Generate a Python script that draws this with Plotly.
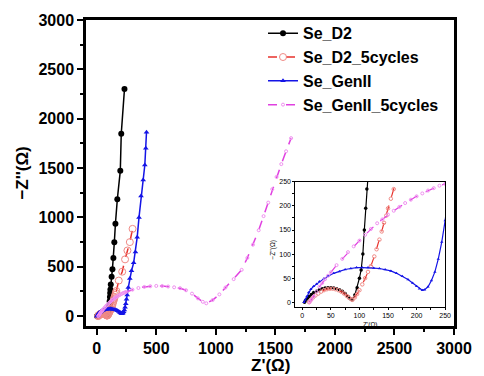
import plotly.graph_objects as go

# ---------------- data ----------------
d2_x = [4, 6, 9, 12, 16, 20, 25, 30, 35, 40, 45, 50, 55, 60, 65, 70, 75, 80, 84, 87,
        92, 96, 100, 103, 106, 108.6, 111, 113, 115, 118, 125, 132, 140, 148, 157, 173, 198, 206, 233]
d2_y = [0, 4, 8, 12, 16, 20, 23, 26, 28, 29.5, 30, 30, 29.5, 28, 26, 23, 18, 12, 7, 5,
        15, 30, 50, 67, 100, 150, 195, 235, 270, 320, 400, 476, 589, 748, 936, 1184, 1472, 1847, 2300]

d2c_x = [12, 15, 19, 23, 28, 33, 38, 43, 48, 53, 58, 63, 68, 73, 78, 82, 86, 88,
         92, 96, 100, 105, 110, 115, 120, 126, 130, 135, 139, 143, 147, 150, 155, 160, 165,
         185, 214, 238, 258, 278, 301]
d2c_y = [0, 5, 10, 14, 18, 22, 25, 27, 28, 28, 27, 25, 22, 18, 13, 9, 6, 5,
         10, 17, 25, 37, 50, 63, 75, 95, 110, 130, 147, 165, 180, 195, 215, 235, 255,
         360, 450, 575, 665, 750, 884]

g2_x = [3, 5, 8, 11, 15, 20, 25, 30, 38, 45, 55, 65, 75, 85, 95, 105, 115, 125, 135, 145,
        155, 165, 175, 185, 193, 200, 205, 210, 214, 220, 226, 232, 238, 244, 250, 256,
        265, 278, 292, 310, 325, 340, 355, 372, 390, 404, 412, 418]
g2_y = [0, 5, 12, 20, 27, 33, 38, 43, 49, 54, 60, 64, 68, 70, 72, 72, 72, 71, 70, 68,
        65, 60, 54, 47, 40, 33, 28, 25, 26, 32, 45, 63, 90, 125, 170, 215,
        290, 380, 460, 540, 650, 800, 1000, 1217, 1380, 1531, 1700, 1864]

g2c_x = [13, 16, 20, 25, 30, 35, 40, 45, 50, 60, 70, 80, 90, 100, 110, 120, 131, 140, 150,
         160, 170, 180, 190, 200, 210, 220, 230, 240, 250, 300, 350, 400, 450, 500, 550, 600,
         650, 700, 750, 800, 850, 891, 920, 973, 1030, 1081, 1150, 1217, 1265, 1312, 1360,
         1401, 1440, 1474, 1510, 1550, 1590, 1632]
g2c_y = [0, 5, 12, 22, 32, 40, 48, 55, 62, 77, 90, 104, 116, 128, 140, 152, 164, 172, 182,
         190, 198, 206, 213, 220, 226, 232, 237, 242, 246, 268, 285, 296, 303, 306, 305, 300,
         292, 283, 262, 228, 180, 145, 130, 163, 220, 290, 375, 469, 590, 724, 870,
         1013, 1150, 1286, 1410, 1540, 1670, 1803]

names = ["Se_D2", "Se_D2_5cycles", "Se_GenII", "Se_GenII_5cycles"]

main_x_ticks = [0, 500, 1000, 1500, 2000, 2500, 3000]
main_y_ticks = [0, 500, 1000, 1500, 2000, 2500, 3000]
inset_ticks = [0, 50, 100, 150, 200, 250]

# ---------------- styles ----------------
styles = [
    dict(line=dict(color="#000000", width=1.5),
         marker=dict(symbol="circle", color="#000000", size=6), msz=3.5),
    dict(line=dict(color="#e8322c", width=1.5, dash="dash"),
         marker=dict(symbol="circle-open", color="#f08a86", size=7, line=dict(width=1)), msz=3.5),
    dict(line=dict(color="#1414e6", width=1.5),
         marker=dict(symbol="triangle-up", color="#1414e6", size=5), msz=3),
    dict(line=dict(color="#e040e0", width=1.5, dash="dash"),
         marker=dict(symbol="circle-open", color="#f090f0", size=3, line=dict(width=1)), msz=3),
]

data = [(d2_x, d2_y), (d2c_x, d2c_y), (g2_x, g2_y), (g2c_x, g2c_y)]

fig = go.Figure()
for (xs, ys), nm, st in zip(data, names, styles):
    fig.add_trace(go.Scatter(x=xs, y=ys, name=nm, mode="lines+markers",
                             line=st["line"], marker=st["marker"],
                             xaxis="x", yaxis="y"))
for (xs, ys), nm, st in zip(data, names, styles):
    mk = dict(st["marker"])
    mk["size"] = st["msz"]
    ln = dict(st["line"])
    ln["width"] = 1.2
    fig.add_trace(go.Scatter(x=xs, y=ys, name=nm, mode="lines+markers",
                             line=ln, marker=mk, showlegend=False,
                             xaxis="x2", yaxis="y2"))

FONT = "Liberation Sans, Arial, sans-serif"

fig.update_layout(
    width=484, height=376,
    margin=dict(l=86, r=22, t=20, b=50),
    paper_bgcolor="white", plot_bgcolor="white",
    font=dict(family=FONT, color="black"),
    showlegend=True,
    legend=dict(x=0.481, y=1.012, xanchor="left", yanchor="top",
                bgcolor="rgba(0,0,0,0)", borderwidth=0,
                font=dict(family=FONT, size=16, weight="bold", color="black"),
                tracegroupgap=0, itemwidth=30),
    xaxis=dict(domain=[0, 1], range=[-90, 3000], tickvals=main_x_ticks,
               ticks="outside", ticklen=6, tickwidth=2, tickcolor="black",
               showline=True, linewidth=2.5, linecolor="black", mirror=True,
               showgrid=False, zeroline=False,
               minor=dict(dtick=250, tick0=0, ticks="outside", ticklen=3, tickwidth=2, tickcolor="black"),
               tickfont=dict(family=FONT, size=16, weight="bold")),
    yaxis=dict(domain=[0, 1], range=[-100, 3000], tickvals=main_y_ticks,
               ticks="outside", ticklen=6, tickwidth=2, tickcolor="black",
               showline=True, linewidth=2.5, linecolor="black", mirror=True,
               showgrid=False, zeroline=False,
               minor=dict(dtick=250, tick0=0, ticks="outside", ticklen=3, tickwidth=2, tickcolor="black"),
               tickfont=dict(family=FONT, size=16, weight="bold")),
    xaxis2=dict(domain=[0.569, 0.976], anchor="y2", range=[-12, 250], tickvals=inset_ticks,
                ticks="outside", ticklen=2, tickwidth=1, tickcolor="black",
                showline=True, linewidth=1, linecolor="black", mirror=True,
                showgrid=False, zeroline=False,
                minor=dict(dtick=25, tick0=0, ticks="outside", ticklen=2, tickwidth=1, tickcolor="black"),
                tickfont=dict(family=FONT, size=7)),
    yaxis2=dict(domain=[0.062, 0.471], anchor="x2", range=[-10, 250], tickvals=inset_ticks,
                ticks="outside", ticklen=2, tickwidth=1, tickcolor="black",
                showline=True, linewidth=1, linecolor="black", mirror=True,
                showgrid=False, zeroline=False,
                minor=dict(dtick=25, tick0=0, ticks="outside", ticklen=2, tickwidth=1, tickcolor="black"),
                tickfont=dict(family=FONT, size=7)),
    annotations=[
        dict(text="Z'(Ω)", xref="paper", yref="paper", x=0.5, y=-0.128,
             xanchor="center", yanchor="middle", showarrow=False,
             font=dict(family=FONT, size=17, weight="bold")),
        dict(text="−Z''(Ω)", xref="paper", yref="paper", x=-0.175, y=0.5,
             xanchor="center", yanchor="middle", showarrow=False, textangle=-90,
             font=dict(family=FONT, size=17, weight="bold")),
        dict(text="Z'(Ω)", xref="paper", yref="paper", x=0.773, y=0.002,
             xanchor="center", yanchor="middle", showarrow=False,
             font=dict(family=FONT, size=6.5)),
        dict(text="−Z''(Ω)", xref="paper", yref="paper", x=0.508, y=0.25,
             xanchor="center", yanchor="middle", showarrow=False, textangle=-90,
             font=dict(family=FONT, size=6.5)),
    ],
)

fig.write_html("out.html")
